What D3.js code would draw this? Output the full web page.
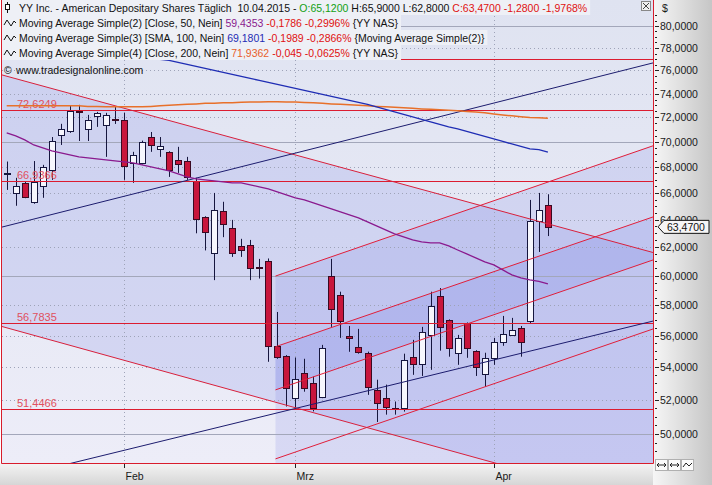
<!DOCTYPE html>
<html><head><meta charset="utf-8">
<script src="https://cdn.jsdelivr.net/npm/d3@7"></script>
<style>
body{margin:0;background:#fff;overflow:hidden}
svg{display:block}
text{font-family:"Liberation Sans",Arial,sans-serif;white-space:pre}
</style>
</head><body>
<svg id="c" width="712" height="485"></svg>
<script>
// ---------------- DATA ----------------
const dates = [
 "2015-01-13","2015-01-14","2015-01-15","2015-01-16","2015-01-20","2015-01-21","2015-01-22","2015-01-23","2015-01-26","2015-01-27","2015-01-28","2015-01-29","2015-01-30",
 "2015-02-02","2015-02-03","2015-02-04","2015-02-05","2015-02-06","2015-02-09","2015-02-10","2015-02-11","2015-02-12","2015-02-13","2015-02-17","2015-02-18","2015-02-19","2015-02-20","2015-02-23","2015-02-24","2015-02-25","2015-02-26","2015-02-27",
 "2015-03-02","2015-03-03","2015-03-04","2015-03-05","2015-03-06","2015-03-09","2015-03-10","2015-03-11","2015-03-12","2015-03-13","2015-03-16","2015-03-17","2015-03-18","2015-03-19","2015-03-20","2015-03-23","2015-03-24","2015-03-25","2015-03-26","2015-03-27","2015-03-30","2015-03-31",
 "2015-04-01","2015-04-02","2015-04-06","2015-04-07","2015-04-08","2015-04-09","2015-04-10"];
const open  = [67.50,65.98,66.77,65.33,66.54,67.78,70.54,70.90,72.55,71.06,72.13,71.38,71.90,
 71.80,68.30,68.30,70.39,69.43,69.20,68.57,68.47,66.93,64.20,61.58,64.65,63.35,62.09,62.16,60.58,61.00,55.34,54.71,
 52.12,53.65,53.04,52.18,59.98,58.68,55.97,55.28,54.90,52.61,52.12,51.53,51.53,54.65,54.20,56.04,58.62,57.02,54.90,56.82,55.03,53.58,
 54.58,55.59,56.04,56.49,56.95,63.90,65.12];
const high  = [68.43,67.16,66.87,68.47,68.17,70.39,71.47,72.97,73.05,72.21,72.46,72.38,72.88,
 72.38,69.20,70.10,70.80,70.39,69.25,69.60,68.80,67.16,64.25,66.00,65.33,63.98,62.60,62.52,61.17,61.20,57.54,54.75,
 54.60,54.52,53.41,55.40,61.17,58.90,56.62,56.43,54.97,53.22,52.92,51.90,54.84,55.72,56.56,58.90,59.15,57.05,56.04,56.85,55.06,54.90,
 55.85,57.28,57.15,56.62,65.47,66.00,65.90];
const low   = [66.23,65.03,65.60,65.18,65.63,67.00,69.75,70.73,70.07,70.07,71.22,68.80,71.46,
 67.00,66.77,68.20,69.20,68.80,67.23,67.54,67.00,63.00,61.77,59.69,62.72,61.31,61.31,59.69,59.80,54.33,54.52,51.60,
 51.53,52.49,51.31,52.10,56.56,55.85,54.96,54.84,52.30,50.69,51.12,51.12,51.30,53.52,53.45,53.83,55.03,54.65,54.14,54.58,53.45,52.79,
 54.14,55.34,55.97,54.65,56.75,61.66,62.80];
const close = [67.55,66.54,65.70,66.85,68.00,70.07,71.02,72.55,72.50,71.80,72.38,72.21,71.86,
 68.08,68.95,69.99,69.75,69.67,67.78,68.24,67.23,64.05,63.10,64.73,63.67,61.52,61.80,60.54,60.50,55.34,54.65,52.73,
 53.29,52.73,51.53,55.21,57.75,56.92,55.85,54.96,52.80,51.82,51.59,51.47,54.46,54.20,56.23,57.95,56.56,55.21,55.85,55.21,54.01,54.58,
 55.59,56.10,56.36,55.59,63.90,64.75,63.47];

const ma50 = [70.73,70.48,70.16,69.75,69.52,69.28,69.12,68.96,68.80,68.72,68.64,68.56,68.48,
 68.40,68.33,68.17,68.01,67.85,67.70,67.47,67.24,67.08,67.00,66.93,66.85,66.77,66.77,66.62,66.46,66.31,66.08,65.85,
 65.63,65.48,65.25,65.03,64.80,64.58,64.35,64.13,63.83,63.54,63.25,62.96,62.74,62.52,62.38,62.31,62.31,62.09,61.80,61.52,61.24,60.96,
 60.75,60.40,60.05,59.84,59.71,59.61,59.4353];
const ma100 = [79.82,79.64,79.45,79.27,79.09,78.91,78.73,78.55,78.36,78.18,78.00,77.82,77.64,
 77.47,77.29,77.16,77.02,76.98,76.89,76.71,76.53,76.36,76.18,76.00,75.83,75.66,75.48,75.31,75.14,74.97,74.79,74.62,
 74.45,74.28,74.10,73.93,73.76,73.60,73.43,73.26,73.09,72.88,72.67,72.46,72.25,72.04,71.84,71.63,71.43,71.22,71.06,70.85,70.65,70.44,
 70.24,70.03,69.83,69.64,69.44,69.38,69.1801];
const ma200 = [72.97,72.97,72.97,72.97,72.97,72.97,72.97,72.97,72.97,72.92,72.92,72.88,72.88,
 72.88,72.88,72.88,72.92,72.97,73.01,73.05,73.09,73.13,73.18,73.18,73.22,73.22,73.26,73.30,73.30,73.32,73.32,73.30,
 73.28,73.25,73.22,73.18,73.13,73.09,73.05,73.01,72.97,72.92,72.88,72.84,72.80,72.76,72.71,72.67,72.63,72.59,72.55,72.50,72.46,72.38,
 72.29,72.21,72.13,72.06,72.00,71.98,71.9362];

// horizontal support / resistance levels
const hLevels  = [77.02, 72.6249, 66.9366, 56.7835, 51.4466];
const hLabeled = [false, true, true, true, true];
// infinite trend lines: [index, price] pairs
const descUpper = [[0, 75.50], [60, 63.69]];
const descLower = [[0, 56.50], [50, 48.93]];
const navyUpper = [[0, 63.54], [60, 74.36]];
const navyLower = [[20, 49.94], [60, 55.28]];
// regression channel (starts at chStart, extends right)
const chStart = 29.8;
const chA = [[29.8, 59.97], [60, 66.83]];
const chB = [[29.8, 55.28], [60, 61.58]];
const chC = [[29.8, 52.60], [60, 58.60]];
const chD = [[29.8, 48.58], [60, 54.12]];

const yTicks = d3.range(50, 81, 2);
const monthNames = ["Jan","Feb","Mrz","Apr"];

// ---------------- LAYOUT ----------------
const svg = d3.select("#c");
const PL = 2, PR = 653, PT = 0, PB = 463;
const x = d3.scaleLinear().domain([0, dates.length - 1]).range([6.7, 547.9]);
const y = d3.scaleLog().domain([48.35, 82.43]).range([PB, PT]);
const loc = d3.formatLocale({decimal: ",", thousands: ".", grouping: [3], currency: ["", "$"], minus: "-"});
const f4 = loc.format(".4f");

const defs = svg.append("defs");
const bgG = defs.append("linearGradient").attr("id","bg").attr("x1",0).attr("y1",0).attr("x2",0).attr("y2",1);
bgG.append("stop").attr("offset","0").attr("stop-color","#dfe3f1");
bgG.append("stop").attr("offset","1").attr("stop-color","#ededf8");
const raG = defs.append("linearGradient").attr("id","ra").attr("x1",0).attr("y1",0).attr("x2",1).attr("y2",0);
raG.append("stop").attr("offset","0").attr("stop-color","#f6f6f6");
raG.append("stop").attr("offset","1").attr("stop-color","#c6c6c6");
const baG = defs.append("linearGradient").attr("id","ba").attr("x1",0).attr("y1",0).attr("x2",0).attr("y2",1);
baG.append("stop").attr("offset","0").attr("stop-color","#f4f4f4");
baG.append("stop").attr("offset","1").attr("stop-color","#d6d6d6");
defs.append("clipPath").attr("id","pc").append("rect").attr("x",PL).attr("y",PT).attr("width",PR-PL).attr("height",PB-PT);

// axis backgrounds
svg.append("rect").attr("x",PR).attr("y",0).attr("width",712-PR).attr("height",485).attr("fill","url(#ra)");
svg.append("rect").attr("x",0).attr("y",PB).attr("width",PR).attr("height",485-PB).attr("fill","url(#ba)");

const plot = svg.append("g").attr("clip-path","url(#pc)");
plot.append("rect").attr("x",PL).attr("y",PT).attr("width",PR-PL).attr("height",PB-PT).attr("fill","url(#bg)");

function pix(pts){ return pts.map(([i,p]) => [x(i), y(p)]); }
function yAt(pts, xv){ const [a,b] = pix(pts); return a[1] + (b[1]-a[1])*(xv-a[0])/(b[0]-a[0]); }
const poly = pts => "M" + pts.map(p => p.join(",")).join("L") + "Z";

// fills
const xs = x(chStart);
plot.append("path").attr("d", poly([[PL,yAt(descUpper,PL)],[PR,yAt(descUpper,PR)],[PR,yAt(descLower,PR)],[PL,yAt(descLower,PL)]]))
  .attr("fill","rgb(110,120,225)").attr("fill-opacity",0.18);
plot.append("path").attr("d", poly([[xs,yAt(chA,xs)],[PR,yAt(chA,PR)],[PR,PB],[xs,PB]]))
  .attr("fill","rgb(110,120,225)").attr("fill-opacity",0.17);
plot.append("path").attr("d", poly([[xs,yAt(chB,xs)],[PR,yAt(chB,PR)],[PR,yAt(chC,PR)],[xs,yAt(chC,xs)]]))
  .attr("fill","rgb(90,100,225)").attr("fill-opacity",0.15);

// grid
yTicks.forEach(p => {
  const yy = Math.round(y(p)) + 0.5;
  const solid = p % 10 === 0;
  plot.append("line").attr("x1",PL).attr("x2",PR).attr("y1",yy).attr("y2",yy)
    .attr("stroke", solid ? "#a3a7ba" : "#9ea3b8").attr("stroke-width",1)
    .attr("stroke-dasharray", solid ? null : "1,3");
});
const monthStarts = dates.map((d,i)=>({i, m:+d.slice(5,7)})).filter((d,k,arr)=> k>0 && d.m !== arr[k-1].m);
monthStarts.forEach(ms => {
  const xx = Math.round(x(ms.i)) + 0.5;
  plot.append("line").attr("x1",xx).attr("x2",xx).attr("y1",PT).attr("y2",PB)
    .attr("stroke","#9ea3b8").attr("stroke-dasharray","1,3");
});

// candles
const cg = plot.append("g");
dates.forEach((d,i) => {
  const cx = Math.round(x(i)) + 0.5;
  const up = close[i] >= open[i];
  cg.append("line").attr("x1",cx).attr("x2",cx).attr("y1",y(high[i])).attr("y2",y(low[i]))
    .attr("stroke","#16163e").attr("stroke-width",1);
  const top = y(Math.max(open[i],close[i])), bot = y(Math.min(open[i],close[i]));
  cg.append("rect").attr("x",cx-3).attr("y",Math.round(top)+0.5).attr("width",6)
    .attr("height",Math.max(1,Math.round(bot-top)))
    .attr("fill", up ? "#f6f6fd" : "#c8163c").attr("stroke", up ? "#16163e" : "#3a0a22").attr("stroke-width",1);
});

// horizontal lines
hLevels.forEach((lv,k) => {
  const yy = Math.round(y(lv)) + 0.5;
  plot.append("line").attr("x1",PL).attr("x2",PR).attr("y1",yy).attr("y2",yy)
    .attr("stroke","#dc1c30").attr("stroke-width",1);
  if (hLabeled[k]) plot.append("text").attr("x",17).attr("y",yy-2.5).text(f4(lv))
    .attr("font-size","11px").attr("fill","#e0505e");
});

// trend lines
function drawInf(pts, col){
  plot.append("line").attr("x1",PL).attr("y1",yAt(pts,PL)).attr("x2",PR).attr("y2",yAt(pts,PR))
    .attr("stroke",col).attr("stroke-width",1);
}
drawInf(descUpper, "#d8203c");
drawInf(descLower, "#d8203c");
drawInf(navyUpper, "#1c1c6e");
drawInf(navyLower, "#1c1c6e");
[chA, chB, chC, chD].forEach(ch => {
  plot.append("line").attr("x1",xs).attr("y1",yAt(ch,xs)).attr("x2",PR).attr("y2",yAt(ch,PR))
    .attr("stroke","#e01e3a").attr("stroke-width",1);
});

// moving averages
const ln = d3.line().x((d,i)=>x(i)).y(d=>y(d));
plot.append("path").attr("d", ln(ma200)).attr("fill","none").attr("stroke","#e8702a").attr("stroke-width",1.5);
plot.append("path").attr("d", ln(ma100)).attr("fill","none").attr("stroke","#1f2db4").attr("stroke-width",1.3);
plot.append("path").attr("d", ln(ma50)).attr("fill","none").attr("stroke","#8a1a8e").attr("stroke-width",1.3);

// plot frame
svg.append("path").attr("d",`M${PL-0.5},0V${PB+0.5}H${PR+0.5}V0`).attr("fill","none").attr("stroke","#d81c2c").attr("stroke-width",1);

// right axis
const ra = svg.append("g");
d3.range(48.5, 82.5, 0.5).forEach(p => {
  const yy = Math.round(y(p)) + 0.5;
  if (yy < 14 || yy > PB) return;
  const major = Number.isInteger(p) && p % 2 === 0;
  ra.append("line").attr("x1",PR+2).attr("x2",PR + (major?6:4)).attr("y1",yy).attr("y2",yy)
    .attr("stroke","#222").attr("stroke-width",1);
});
yTicks.forEach(p => {
  ra.append("text").attr("x",660).attr("y",y(p)+4).text(f4(p)).attr("font-size","10.5px").attr("fill","#1a1a1a");
});
ra.append("text").attr("x",662).attr("y",12).text("$").attr("font-size","10.5px").attr("fill","#1a1a1a");
// last price tag
const lastY = y(close[close.length-1]);
ra.append("path").attr("d",`M658,${lastY}L664,${lastY-6.5}H709V${lastY+6.5}H664Z`).attr("fill","#f6f6f6").attr("stroke","#111");
ra.append("text").attr("x",667).attr("y",lastY+4).text(f4(close[close.length-1])).attr("font-size","10.5px").attr("fill","#111");
// corner buttons
[655,668,681].forEach((bx,k) => {
  ra.append("rect").attr("x",bx+0.5).attr("y",459.5).attr("width",12).attr("height",11).attr("fill","#fbfbfb").attr("stroke","#b0b0b0");
  const cyb = 465;
  if (k<2){
    ra.append("path").attr("d",`M${bx+2},${cyb}H${bx+11}M${bx+4},${cyb-2}L${bx+2},${cyb}L${bx+4},${cyb+2}M${bx+9},${cyb-2}L${bx+11},${cyb}L${bx+9},${cyb+2}`).attr("stroke","#222").attr("fill","none");
  } else {
    ra.append("path").attr("d",`M${bx+2},${cyb+2}L${bx+5},${cyb-2}L${bx+8},${cyb+1}L${bx+11},${cyb-2}`).attr("stroke","#222").attr("fill","none");
  }
});
// top-right small box
svg.append("rect").attr("x",641.5).attr("y",1.5).attr("width",9).attr("height",9).attr("fill","#f0f0f0").attr("stroke","#888");
svg.append("path").attr("d","M643,3L649,9M649,3L643,9").attr("stroke","#444");

// bottom axis
const ba = svg.append("g");
monthStarts.forEach(ms => {
  const xx = Math.round(x(ms.i)) + 0.5;
  ba.append("line").attr("x1",xx).attr("x2",xx).attr("y1",PB+1).attr("y2",PB+5).attr("stroke","#222");
  ba.append("text").attr("x",xx+1).attr("y",480).text(monthNames[ms.m-1]).attr("font-size","10.5px").attr("fill","#1a1a1a");
});

// legend
const lg = svg.append("g");
const rows = [
  [["YY Inc. - American Depositary Shares Täglich  10.04.2015 - ","#111"],["O:"+f4(open[60]),"#12a012"],[" H:"+f4(high[60])+" L:"+f4(low[60])+" ","#111"],["C:"+f4(close[60])+" "+f4(close[60]-close[59])+" "+f4((close[60]-close[59])/close[59]*100)+"%","#e01010"]],
  [["Moving Average Simple(2) [Close, 50, Nein] ","#111"],[f4(ma50[60]),"#8a1a8e"],[" -0,1786 -0,2996% ","#e01010"],["{YY NAS}","#111"]],
  [["Moving Average Simple(3) [SMA, 100, Nein] ","#111"],[f4(ma100[60]),"#1f2db4"],[" -0,1989 -0,2866% ","#e01010"],["{Moving Average Simple(2)}","#111"]],
  [["Moving Average Simple(4) [Close, 200, Nein] ","#111"],[f4(ma200[60]),"#e8602a"],[" -0,045 -0,0625% ","#e01010"],["{YY NAS}","#111"]]
];
const baselines = [12, 27, 42, 57];
rows.forEach((r,k) => {
  const bgR = lg.append("rect").attr("x",2).attr("y",baselines[k]-12).attr("height",15).attr("fill","#eef0f6");
  const t = lg.append("text").attr("x",19).attr("y",baselines[k]).attr("font-size","10.5px");
  r.forEach(([s,c]) => t.append("tspan").text(s).attr("fill",c));
  const w = t.node().getComputedTextLength();
  bgR.attr("width", Math.min(PR-2, 19 + w + 1));
  const b = baselines[k];
  if (k === 0) {
    lg.append("line").attr("x1",7.5).attr("x2",7.5).attr("y1",b-10).attr("y2",b+1).attr("stroke","#111");
    lg.append("rect").attr("x",5.5).attr("y",b-7.5).attr("width",4).attr("height",5).attr("fill","#fff").attr("stroke","#111");
  } else {
    lg.append("path").attr("d",`M4,${b-2}L7,${b-7}L11,${b-1}L14,${b-6}L16,${b-4}`).attr("fill","none").attr("stroke","#111");
  }
});
lg.append("text").attr("x",4).attr("y",74).text("©").attr("font-size","10.5px").attr("fill","#111");
lg.append("text").attr("x",16).attr("y",74).text("www.tradesignalonline.com").attr("font-size","10.5px").attr("fill","#111");
</script>
</body></html>
